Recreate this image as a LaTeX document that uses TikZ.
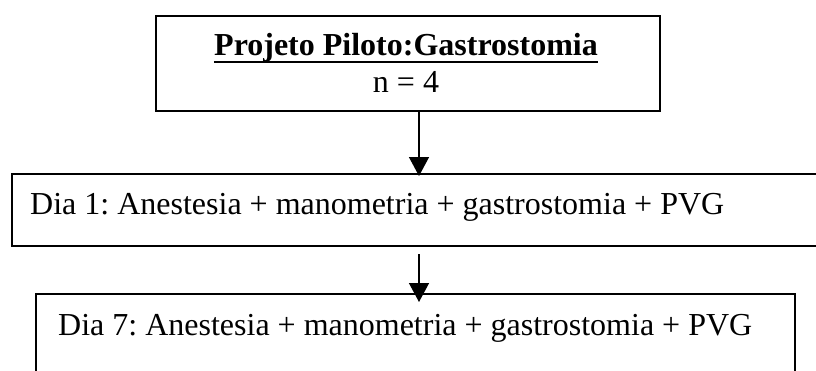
\documentclass[tikz,border=0pt]{standalone}
\usepackage{fontspec}
\setmainfont{Liberation Serif}
\usetikzlibrary{arrows.meta}

\begin{document}
\frenchspacing
\begin{tikzpicture}[x=1pt,y=-1pt,
    font=\fontsize{32}{38}\selectfont,
    caixa/.style={draw,line width=1.6pt,inner sep=0pt,anchor=north west},
    texto/.style={inner sep=0pt},
    seta/.style={-{Triangle[width=20pt,length=19pt]},line width=1.4pt}]
    \useasboundingbox (0,0) rectangle (816,370);

    \node[caixa,minimum width=504pt,minimum height=95pt] (piloto) at (155,15){};
    \node[caixa,minimum width=809pt,minimum height=72pt] (dia1) at (11,173){};
    \node[caixa,minimum width=759pt,minimum height=110pt] (dia7) at (35,293){};

    \node[texto,anchor=base] (titulo) at (406,55){\textbf{Projeto Piloto:Gastrostomia}};
    \node[texto,anchor=base] (n) at (406,92){n = 4};
    \node[texto,anchor=base west] (txt1) at (30,214){Dia 1: Anestesia + manometria + gastrostomia + PVG};
    \node[texto,anchor=base west] (txt7) at (58,335){Dia 7: Anestesia + manometria + gastrostomia + PVG};

    % sublinhado do titulo
    \draw[line width=2pt] ([yshift=-7pt]titulo.base west) -- ([yshift=-7pt]titulo.base east);

    \coordinate (a1) at (419,111);
    \coordinate (b1) at (419,176);
    \coordinate (a2) at (419,254);
    \coordinate (b2) at (419,302);

    \draw (a1) edge[seta] (b1);
    \draw (a2) edge[seta] (b2);
  \end{tikzpicture}
\end{document}
